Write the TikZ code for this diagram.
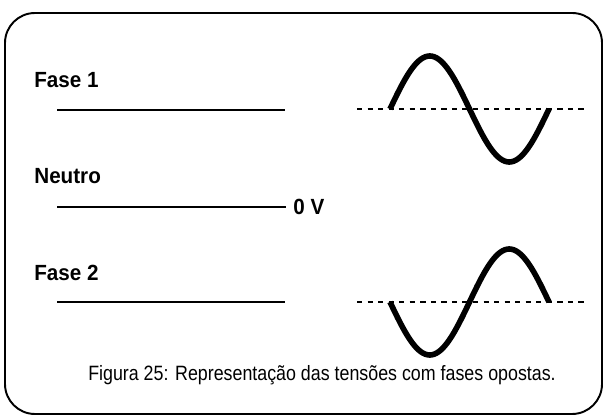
\documentclass[tikz,border=0pt]{standalone}
\usepackage{fontspec}
\setmainfont{Liberation Sans}
\newfontfamily\capfont[FakeStretch=0.86]{Liberation Sans}
\newfontfamily\wirefont[FakeStretch=0.94]{Liberation Sans}
\begin{document}
\begin{tikzpicture}[
  x=0.02cm, y=-0.02cm,
  wirename/.style={anchor=base west, inner sep=0pt,
                   font=\wirefont\fontsize{12.5}{14}\selectfont\bfseries},
  figcaption/.style={anchor=base, inner sep=0pt,
                     font=\capfont\fontsize{11.8}{13}\selectfont},
  frame/.style={draw, line width=1.1pt, rounded corners=0.6cm},
  wire/.style={draw, line width=1.4pt},
  zeroline/.style={draw, line width=1.7pt, dash pattern=on 3pt off 3pt},
  wave/.style={draw, line width=3.2pt}
]
\useasboundingbox (0,0) rectangle (605,418);
\draw[frame] (5,13) rectangle (602,414);

% wire names
\node[wirename] (fase1) at (34,88) {Fase 1};
\node[wirename] (neutro) at (34,184) {Neutro};
\node[wirename] (fase2) at (34,281) {Fase 2};
\node[anchor=west, inner sep=0pt, font=\wirefont\fontsize{12.5}{14}\selectfont\bfseries]
  (zero) at (293,207) {0 V};

% wires
\coordinate (f1a) at (57,110);  \coordinate (f1b) at (285,110);
\coordinate (na) at (57,207);
\coordinate (f2a) at (57,302);  \coordinate (f2b) at (285,302);
\draw[wire] (f1a) -- (f1b);
\draw[wire] (na) -- ([xshift=-7*0.02cm]zero.west);
\draw[wire] (f2a) -- (f2b);

% zero lines of the waves
\coordinate (z1a) at (357,109);  \coordinate (z1b) at (588,109);
\coordinate (z2a) at (357,302);  \coordinate (z2b) at (588,302);
\draw[zeroline] (z1a) -- (z1b);
\draw[zeroline] (z2a) -- (z2b);

% one period of each phase, opposite signs
\foreach \yy/\ss in {109/1, 302/-1}
  \draw[wave] plot[domain=0:360, samples=73, smooth]
    ({390+\x/360*159}, {\yy-\ss*53*sin(\x)});

% caption
\node[figcaption] (cap) at (322,380)
  {Figura 25: Representação das tensões com fases opostas.};
\end{tikzpicture}
\end{document}
